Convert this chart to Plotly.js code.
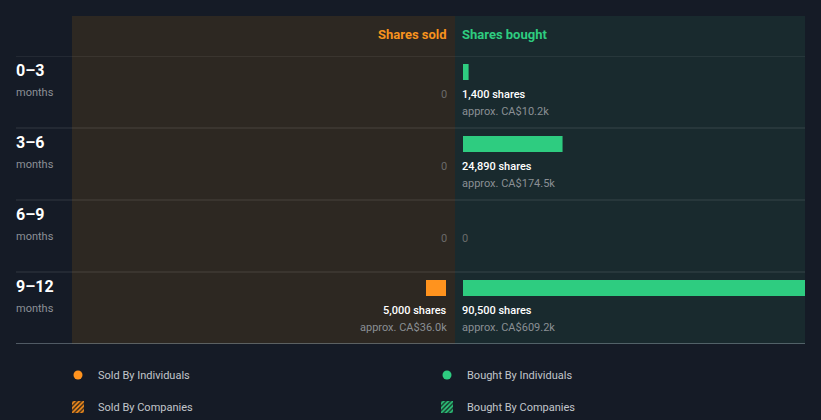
<!DOCTYPE html>
<html>
<head>
<meta charset="utf-8">
<script src="https://cdn.plot.ly/plotly-3.0.1.min.js"></script>
<style>
  html, body { margin: 0; padding: 0; background: #151b26; }
  #chart { width: 821px; height: 420px; }
</style>
</head>
<body>
<div id="chart"></div>
<script>
// ---- data ----
const rows = ['0–3', '3–6', '6–9', '9–12'];
const rowUnit = 'months';
const soldIndividuals = [0, 0, 0, 5000];
const soldCompanies = [0, 0, 0, 0];
const boughtIndividuals = [1400, 24890, 0, 90500];
const boughtCompanies = [0, 0, 0, 0];
const soldValueCADk = [0, 0, 0, 36.0];
const boughtValueCADk = [10.2, 174.5, 0, 609.2];
const headerLabels = ['Shares sold', 'Shares bought'];
const legendLabels = ['Sold By Individuals', 'Bought By Individuals', 'Sold By Companies', 'Bought By Companies'];

// ---- style ----
const BG = '#151b26';
const SOLD_BG = '#2d2822';
const BOUGHT_BG = '#192a2e';
const ORANGE = '#ff931e';
const ORANGE_TXT = '#f7931e';
const GREEN = '#2ecc80';
const FONT = 'Roboto, "Open Sans", sans-serif';
const W = 821, H = 420;
const M = {l: 72, r: 16, t: 56, b: 76, pad: 0, autoexpand: false};
const PW = W - M.l - M.r;   // 733
const PH = H - M.t - M.b;   // 288
const split = (455 - M.l) / PW;
const ROW = PH / rows.length; // 72 px
const px2y = (i, off) => i - 0.5 + off / ROW;
const pxX = x => (x - M.l) / PW;
const pxY = y => 1 - (y - M.t) / PH;

const fmt = n => n.toLocaleString('en-US');
const barW = 16 / ROW, barOff = -0.5 + 8 / ROW;

const traces = [
  {type: 'bar', orientation: 'h', name: legendLabels[0], y: rows, x: soldIndividuals,
   xaxis: 'x', yaxis: 'y', width: barW, offset: barOff,
   marker: {color: ORANGE}, showlegend: false, hoverinfo: 'skip'},
  {type: 'bar', orientation: 'h', name: legendLabels[2], y: rows, x: soldCompanies,
   xaxis: 'x', yaxis: 'y', width: barW, offset: barOff, legend: 'legend2',
   marker: {color: SOLD_BG, pattern: {shape: '/', fgcolor: ORANGE, bgcolor: '#3a2a18', size: 4, solidity: 0.5}},
   hoverinfo: 'skip'},
  {type: 'bar', orientation: 'h', name: legendLabels[1], y: rows, x: boughtIndividuals,
   xaxis: 'x2', yaxis: 'y', width: barW, offset: barOff,
   marker: {color: GREEN}, showlegend: false, hoverinfo: 'skip'},
  {type: 'bar', orientation: 'h', name: legendLabels[3], y: rows, x: boughtCompanies,
   xaxis: 'x2', yaxis: 'y', width: barW, offset: barOff, legend: 'legend2',
   marker: {color: BOUGHT_BG, pattern: {shape: '/', fgcolor: GREEN, bgcolor: '#173a2c', size: 4, solidity: 0.5}},
   hoverinfo: 'skip'},
  {type: 'scatter', mode: 'markers', name: legendLabels[0], x: [null], y: [null],
   xaxis: 'x', yaxis: 'y', marker: {color: ORANGE, size: 9, symbol: 'circle'}, legend: 'legend'},
  {type: 'scatter', mode: 'markers', name: legendLabels[1], x: [null], y: [null],
   xaxis: 'x2', yaxis: 'y', marker: {color: GREEN, size: 9, symbol: 'circle'}, legend: 'legend'}
];

const shapes = [
  {type: 'rect', xref: 'paper', yref: 'paper', x0: 0, x1: split, y0: 0, y1: pxY(16),
   fillcolor: SOLD_BG, line: {width: 0}, layer: 'below'},
  {type: 'rect', xref: 'paper', yref: 'paper', x0: split, x1: 1, y0: 0, y1: pxY(16),
   fillcolor: BOUGHT_BG, line: {width: 0}, layer: 'below'},
];
rows.forEach((r, i) => {
  shapes.push({type: 'line', xref: 'paper', yref: 'y', x0: pxX(16), x1: 1,
    y0: i - 0.5, y1: i - 0.5, line: {color: 'rgba(255,255,255,0.13)', width: 1}, layer: 'above'});
});
shapes.push({type: 'line', xref: 'paper', yref: 'y', x0: pxX(16), x1: 1,
  y0: rows.length - 0.5, y1: rows.length - 0.5, line: {color: '#8d9ba3', width: 1}, layer: 'above'});

const annBase = {showarrow: false, borderpad: 0, borderwidth: 0};
const annotations = [
  Object.assign({xref: 'x', yref: 'paper', x: 0, y: pxY(35), xanchor: 'right', yanchor: 'middle', xshift: 1,
   text: headerLabels[0], font: {family: FONT, size: 13, color: ORANGE_TXT, weight: 700}}, annBase),
  Object.assign({xref: 'x2', yref: 'paper', x: 0, y: pxY(35), xanchor: 'left', yanchor: 'middle', xshift: -1,
   text: headerLabels[1], font: {family: FONT, size: 13, color: GREEN, weight: 700}}, annBase),
];

function cellText(axis, anchor, shares, valueK, i) {
  const sh = anchor === 'right' ? 1 : -1;
  if (shares > 0) {
    annotations.push(Object.assign({xref: axis, yref: 'y', x: 0, y: px2y(i, 38), xanchor: anchor, yanchor: 'middle', xshift: sh,
      text: fmt(shares) + ' shares',
      font: {family: FONT, size: 11, color: '#ffffff', weight: 500}}, annBase));
    annotations.push(Object.assign({xref: axis, yref: 'y', x: 0, y: px2y(i, 55), xanchor: anchor, yanchor: 'middle', xshift: sh,
      text: 'approx. CA$' + valueK.toFixed(1) + 'k',
      font: {family: FONT, size: 11, color: '#8a8f94'}}, annBase));
  } else {
    annotations.push(Object.assign({xref: axis, yref: 'y', x: 0, y: px2y(i, 38), xanchor: anchor, yanchor: 'middle', xshift: sh,
      text: '0', font: {family: FONT, size: 11, color: '#6a6a6a'}}, annBase));
  }
}

rows.forEach((r, i) => {
  const sold = soldIndividuals[i] + soldCompanies[i];
  const bought = boughtIndividuals[i] + boughtCompanies[i];
  cellText('x', 'right', sold, soldValueCADk[i], i);
  cellText('x2', 'left', bought, boughtValueCADk[i], i);
  annotations.push(Object.assign({xref: 'paper', yref: 'y', x: pxX(16), y: px2y(i, 14), xanchor: 'left', yanchor: 'middle',
    text: r, font: {family: FONT, size: 16, color: '#ffffff', weight: 700}}, annBase));
  annotations.push(Object.assign({xref: 'paper', yref: 'y', x: pxX(16), y: px2y(i, 36), xanchor: 'left', yanchor: 'middle',
    text: rowUnit, font: {family: FONT, size: 11, color: '#8c9096'}}, annBase));
});

const legendCommon = {
  orientation: 'h', xanchor: 'left', yanchor: 'middle', x: pxX(58),
  entrywidth: 324, entrywidthmode: 'pixels',
  bgcolor: 'rgba(0,0,0,0)', borderwidth: 0,
  font: {family: FONT, size: 11, color: '#c2c6cb'},
  itemclick: false, itemdoubleclick: false
};

const layout = {
  width: W, height: H,
  margin: M,
  paper_bgcolor: BG, plot_bgcolor: 'rgba(0,0,0,0)',
  font: {family: FONT},
  barmode: 'overlay',
  showlegend: true,
  xaxis: {domain: [0, split], range: [374 / 4 * 1000, -9 / 4 * 1000], autorange: false,
          showgrid: false, zeroline: false, showticklabels: false, fixedrange: true},
  xaxis2: {domain: [split, 1], range: [-8 / 4 * 1000, 342 / 4 * 1000], autorange: false,
           showgrid: false, zeroline: false, showticklabels: false, fixedrange: true},
  yaxis: {type: 'category', categoryorder: 'array', categoryarray: rows,
          range: [rows.length - 0.5, -0.5], autorange: false,
          showgrid: false, zeroline: false, showticklabels: false, fixedrange: true},
  legend: Object.assign({}, legendCommon, {y: pxY(375)}),
  legend2: Object.assign({}, legendCommon, {y: pxY(407)}),
  shapes: shapes,
  annotations: annotations
};

Plotly.newPlot('chart', traces, layout, {displayModeBar: false, staticPlot: true});
</script>
</body>
</html>
